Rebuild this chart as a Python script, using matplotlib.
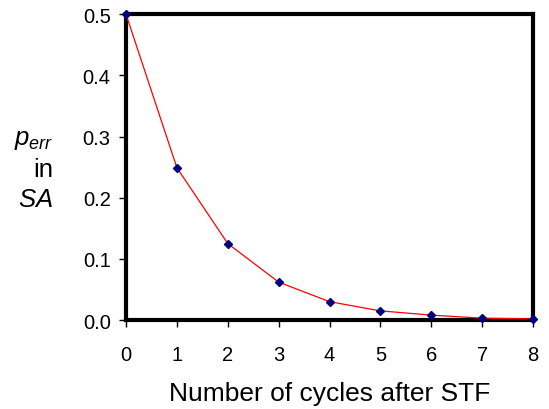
import matplotlib
matplotlib.use("Agg")
import matplotlib.pyplot as plt

# data
cycles = [0, 1, 2, 3, 4, 5, 6, 7, 8]
p_err = [0.5, 0.249, 0.125, 0.062, 0.03, 0.015, 0.008, 0.003, 0.002]

plt.rcParams['font.family'] = ['Liberation Sans', 'DejaVu Sans']
plt.rcParams['mathtext.fontset'] = 'custom'
plt.rcParams['mathtext.rm'] = 'Liberation Sans'
plt.rcParams['mathtext.it'] = 'Liberation Sans:italic'

fig = plt.figure(figsize=(5.49, 4.10), dpi=100)
ax = fig.add_axes([0.2295, 0.217, 0.7415, 0.746])

ax.plot(cycles, p_err, color="red", linewidth=0.9,
        marker="D", markersize=4.5, markerfacecolor="#000080",
        markeredgecolor="#000080", clip_on=False, zorder=3)

ax.set_xlim(0, 8)
ax.set_ylim(0, 0.5)
ax.set_xticks(range(0, 9))
ax.set_yticks([0, 0.1, 0.2, 0.3, 0.4, 0.5])
ax.set_yticklabels(["0.0", "0.1", "0.2", "0.3", "0.4", "0.5"])
ax.tick_params(labelsize=14.5, length=5, width=1, direction="out")
ax.tick_params(axis="x", pad=13)
ax.tick_params(axis="y", pad=6)

for s in ax.spines.values():
    s.set_linewidth(3)
    s.set_zorder(2)

ax.set_xlabel("Number of cycles after STF", fontsize=19, labelpad=12)
fig.text(0.097, 0.585, "$p_{err}$\nin\n$SA$", fontsize=18.5,
         ha="right", va="center", multialignment="right", linespacing=1.3)

fig.savefig("out.png", dpi=100)
